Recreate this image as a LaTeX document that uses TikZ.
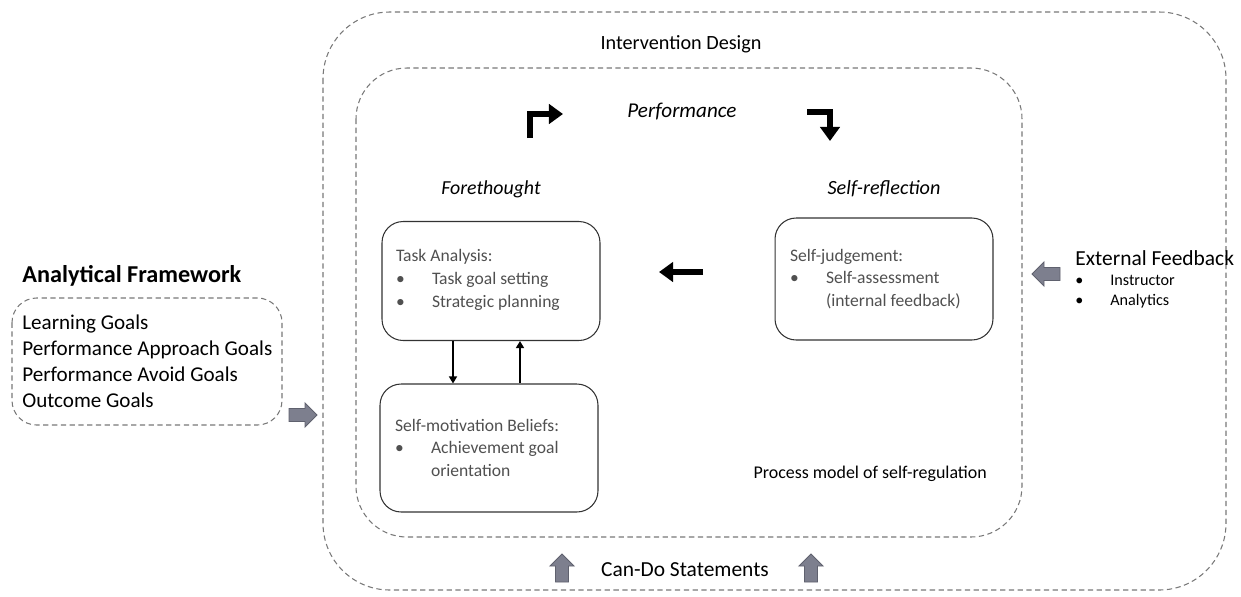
\documentclass[tikz,border=0pt]{standalone}
\usepackage{fontspec}
\setmainfont{Carlito}
\usetikzlibrary{arrows.meta}

\definecolor{blockgray}{RGB}{125,127,142}
\definecolor{blockedge}{RGB}{95,97,110}
\definecolor{dashgray}{RGB}{120,120,120}
\definecolor{boxtext}{RGB}{80,80,80}

\newcommand{\itm}{\makebox[0.72cm][l]{\textbullet}}
\newcommand{\fs}[2]{\fontsize{#1}{#2}\selectfont}

\tikzset{
    dashbox/.style={draw=dashgray, dash pattern=on 3pt off 2pt, line width=0.6pt},
    phasebox/.style={draw=black!80, rounded corners=12pt, line width=0.6pt,
        inner sep=0pt, text=boxtext},
    bentarrow/.style={line width=3.2pt, -{Triangle[length=8pt,width=11pt]}},
    thinarrow/.style={line width=1.1pt, -{Triangle[length=4pt,width=4.5pt]}},
    blockarr/.pic={
        \draw[blockedge, fill=blockgray, line width=0.5pt]
            (-14,-6.5) -- (2,-6.5) -- (2,-12) -- (14,0) -- (2,12) -- (2,6.5)
            -- (-14,6.5) -- cycle;
    }
}

\begin{document}
\begin{tikzpicture}[x=0.02cm, y=-0.02cm]
    \useasboundingbox (0,0) rectangle (1241,596);

    % Outer and inner frames
    \draw[dashbox, rounded corners=38pt] (323,12) rectangle (1226,590);
    \draw[dashbox, rounded corners=29pt] (356,68) rectangle (1022,537);
    \node (design) at (681,44) {\fs{11.5pt}{14pt}Intervention Design};

    % Phase titles
    \node (perf) at (682,112) {\fs{12pt}{14pt}\itshape Performance};
    \node (fore) at (491,189) {\fs{11.3pt}{14pt}\itshape Forethought};
    \node (refl) at (884,189) {\fs{11.5pt}{14pt}\itshape Self-reflection};

    \coordinate (b1) at (530,138);
    \coordinate (b2) at (563,114);
    \coordinate (b3) at (807,112);
    \coordinate (b4) at (830,141);
    \draw[bentarrow] (b1) |- (b2);
    \draw[bentarrow] (b3) -| (b4);

    % Phase boxes
    \node[phasebox, minimum width=4.36cm, minimum height=2.38cm] (task) at (491,281)
        {\begin{minipage}{3.8cm}\fs{10pt}{13pt}Task Analysis:\\
        \itm Task goal setting\\
        \itm Strategic planning\par\vspace*{0.04cm}\end{minipage}};
    \node[phasebox, minimum width=4.36cm, minimum height=2.56cm] (motiv) at (489,448)
        {\begin{minipage}{3.76cm}\fs{10pt}{12.8pt}Self-motivation Beliefs:\\
        \itm Achievement goal\\
        \hspace*{0.72cm}orientation\par\vspace*{0.02cm}\end{minipage}};
    \node[phasebox, minimum width=4.36cm, minimum height=2.44cm] (judge) at (884,279)
        {\begin{minipage}{3.76cm}\fs{10pt}{13pt}Self-judgement:\\
        \itm Self-assessment\\
        \hspace*{0.72cm}(internal feedback)\end{minipage}};

    \draw[thinarrow] (task.south -| 453,0) -- (motiv.north -| 453,0);
    \draw[thinarrow] (motiv.north -| 520,0) -- (task.south -| 520,0);

    \coordinate (l1) at (703,272);
    \coordinate (l2) at (659,272);
    \draw[bentarrow] (l1) -- (l2);

    \node[anchor=east] (procmodel) at (993,474) {\fs{10.2pt}{12pt}Process model of self-regulation};

    % Analytical framework
    \node[anchor=west, inner sep=0pt] (frametitle) at (22,276) {\fs{13.8pt}{16pt}\bfseries Analytical Framework};
    \draw[dashbox, rounded corners=14pt] (12,298) rectangle (282,425);
    \node[anchor=west, align=left, inner sep=0pt, font=\fs{12pt}{14.8pt}] (goals) at (22,361)
        {Learning Goals\\
        Performance Approach Goals\\
        Performance Avoid Goals\\
        Outcome Goals};
    \pic (rarrow) at (303,415) {blockarr};

    % External feedback
    \pic[rotate=180] (larrow) at (1046,274) {blockarr};
    \node[anchor=west, inner sep=0pt] (extfb) at (1075,258) {\fs{12.2pt}{14pt}External Feedback};
    \node[anchor=west, align=left, inner sep=0pt, font=\fs{9.2pt}{11.3pt}] (extlist) at (1075,292)
        {\makebox[0.7cm][l]{\textbullet}Instructor\\
        \makebox[0.7cm][l]{\textbullet}Analytics};

    % Can-Do statements
    \node (cando) at (685,570) {\fs{12.2pt}{14pt}Can-Do Statements};
    \pic[rotate=90] (uarrow1) at (562,568) {blockarr};
    \pic[rotate=90] (uarrow2) at (811,568) {blockarr};

\end{tikzpicture}
\end{document}
